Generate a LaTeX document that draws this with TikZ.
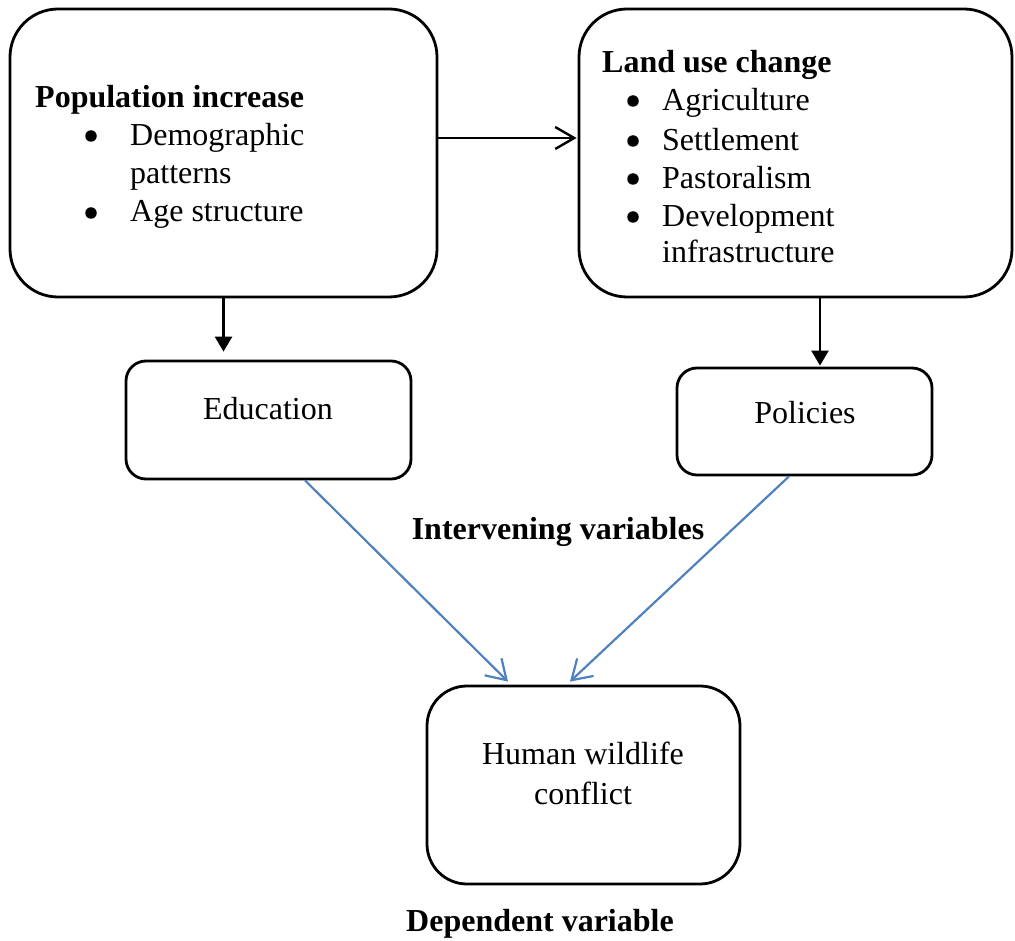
\documentclass[tikz,border=0pt]{standalone}
\usepackage{fontspec}
\setmainfont{Liberation Serif}
\usetikzlibrary{arrows.meta}

\tikzset{
  bigbox/.style={draw, line width=2.8pt, rounded corners=48pt, inner sep=0pt},
  smallbox/.style={draw, line width=2.8pt, rounded corners=20pt, inner sep=0pt},
  txt/.style={anchor=base west, inner sep=0pt, font=\fontsize{32}{38}\selectfont},
  ctxt/.style={anchor=base, inner sep=0pt, font=\fontsize{32}{38}\selectfont},
  dot/.style={circle, fill, inner sep=0pt, minimum size=11.5pt},
  blkarrow/.style={line width=2.6pt, -{Triangle[length=15pt,width=17pt]}},
  openarrow/.style={line width=2.4pt, -{Straight Barb[length=19pt,width=22pt,line width=2.4pt]}},
  bluearrow/.style={line width=2.2pt, draw={rgb,255:red,79;green,129;blue,189},
    -{Straight Barb[length=19pt,width=24pt,line width=2.2pt]}},
}

\begin{document}
\begin{tikzpicture}[x=1pt,y=-1pt]

  \useasboundingbox (0,0) rectangle (1015,941);

  % boxes
  \node[bigbox, minimum width=427pt, minimum height=288pt] (pop) at (223.5,153) {};
  \node[bigbox, minimum width=433pt, minimum height=288pt] (land) at (795.5,153) {};
  \node[smallbox, minimum width=285pt, minimum height=118pt] (edu) at (268.5,420) {};
  \node[smallbox, minimum width=255pt, minimum height=107pt] (pol) at (804.5,421.5) {};
  \node[bigbox, rounded corners=40pt, minimum width=313pt, minimum height=198pt] (hwc) at (583.5,785) {};

  % Population increase
  \node[txt, font=\fontsize{32}{38}\selectfont\bfseries] (popt) at (35,108) {Population increase};
  \node[dot] (pd1) at (91,136) {};
  \node[txt] (pa) at (130,146) {Demographic};
  \node[txt] (pb) at (130,184) {patterns};
  \node[dot] (pd2) at (91,213) {};
  \node[txt] (pc) at (130,222) {Age structure};

  % Land use change
  \node[txt, font=\fontsize{32}{38}\selectfont\bfseries] (landt) at (602,73) {Land use change};
  \foreach \nm/\yy/\tx in {la/111/Agriculture, lb/151/Settlement, lc/189/Pastoralism, ld/227/Development}{
    \node[dot] (\nm dot) at (633,\yy-10) {};
    \node[txt] (\nm) at (662,\yy) {\tx};
  }
  \node[txt] (le) at (662,263) {infrastructure};

  % small boxes text
  \node[ctxt] (edut) at (268,419) {Education};
  \node[ctxt] (polt) at (805,423) {Policies};
  \node[ctxt] (hwca) at (583,764) {Human wildlife};
  \node[ctxt] (hwcb) at (583,804) {conflict};

  % captions
  \node[ctxt, font=\fontsize{32}{38}\selectfont\bfseries] (interv) at (558,539) {Intervening variables};
  \node[ctxt, font=\fontsize{32}{38}\selectfont\bfseries] (depend) at (540,931) {Dependent variable};

  % connectors
  \coordinate (pe) at ([yshift=15pt]pop.east);
  \draw[openarrow] (pe) -- ([xshift=-1pt]pe -| land.west);

  \draw[blkarrow] (pop.south) -- ([yshift=8pt]pop.south |- edu.north);

  \coordinate (ls) at ([xshift=24.5pt]land.south);
  \draw[blkarrow] (ls) -- ([yshift=1pt]ls |- pol.north);

  \draw[bluearrow] ([xshift=36.5pt]edu.south) -- ([xshift=-75.5pt,yshift=3pt]hwc.north);
  \draw[bluearrow] ([xshift=-15.5pt]pol.south) -- ([xshift=-13.5pt,yshift=3pt]hwc.north);

\end{tikzpicture}
\end{document}
